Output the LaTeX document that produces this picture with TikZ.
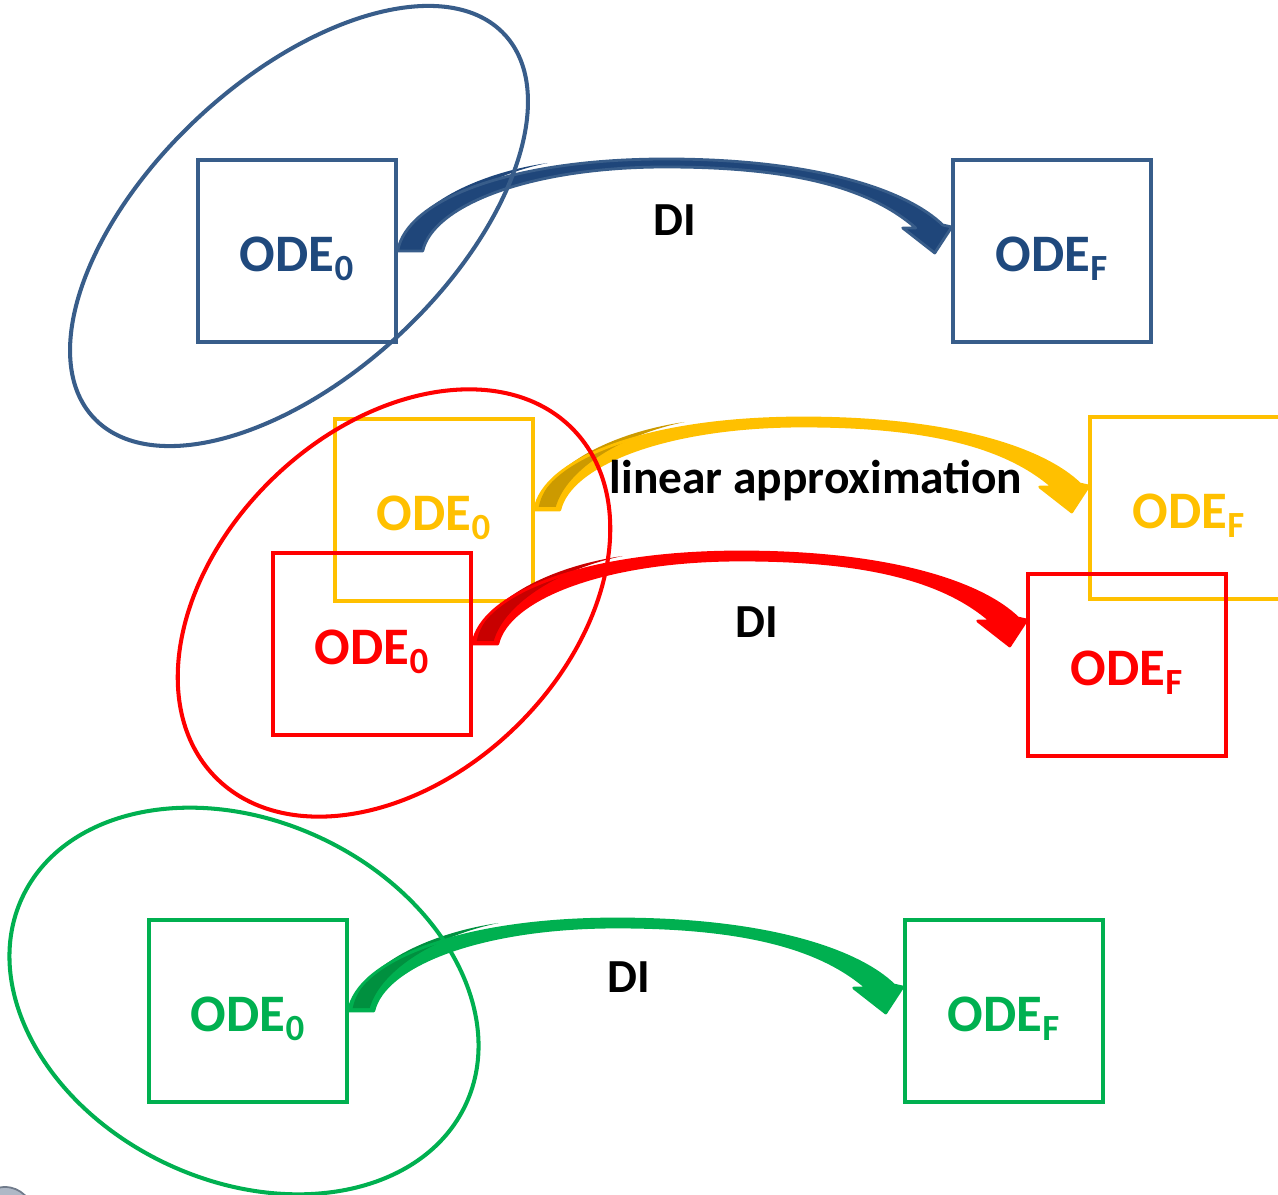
\documentclass[tikz,border=0pt]{standalone}
\usepackage{fontspec}
\setmainfont{Carlito}
\usetikzlibrary{shapes.geometric}

\definecolor{odeblue}{HTML}{385D8A}
\definecolor{odebluetext}{HTML}{1F497D}
\definecolor{odebluedark}{HTML}{1F467A}
\definecolor{odeyellow}{HTML}{FFC000}
\definecolor{odeyellowdark}{HTML}{CC9A00}
\definecolor{odered}{HTML}{FF0000}
\definecolor{odereddark}{HTML}{C80000}
\definecolor{odegreen}{HTML}{00B050}
\definecolor{odegreendark}{HTML}{00903F}
\definecolor{cornergrey}{HTML}{8C9AAE}

% band of the curved arrow, in pixels from the tail corner
\newcommand{\diarrowpath}{(0,0) .. controls (8,-50) and (110,-92) .. (268,-92)
  .. controls (420,-92) and (510,-60) .. (545,-26)
  -- (554,-24) -- (537,2) -- (505,-23) -- (518,-23)
  .. controls (470,-65) and (390,-84) .. (268,-84)
  .. controls (130,-84) and (35,-45) .. (25,0) -- cycle}

\tikzset{
  odebox/.style={draw, line width=2pt, minimum width=3.96cm, minimum height=3.64cm, inner sep=0pt,
    text height=23pt, text depth=0pt, font=\fontsize{30}{30}\selectfont\bfseries},
  region/.style={ellipse, draw, line width=2.3pt, inner sep=0pt},
  arrowlabel/.style={font=\fontsize{27}{27}\selectfont\bfseries},
  pics/diarrow/.style n args={3}{code={
    \fill[#2] \diarrowpath;
    \fill[#3] (4,-3) .. controls (12,-45) and (80,-78) .. (150,-88)
      .. controls (90,-76) and (32,-42) .. (21,-3) -- cycle;
    \draw[#1, line width=1.6pt, line join=round] \diarrowpath;
  }}
}

\begin{document}
\begin{tikzpicture}[x=0.02cm, y=-0.02cm]
  \useasboundingbox (0,0) rectangle (1278,1195);

  % boxes
  \node (odeB0) [odebox, color=odeblue, text=odebluetext] at (297,251) {ODE\textsubscript{0}};
  \node (odeBF) [odebox, color=odeblue, text=odebluetext] at (1052,251) {ODE\textsubscript{F}};
  \node (odeY0) [odebox, color=odeyellow] at (434,510) {ODE\textsubscript{0}};
  \node (odeYF) [odebox, color=odeyellow] at (1189,508) {ODE\textsubscript{F}};
  \node (odeR0) [odebox, color=odered] at (372,644) {ODE\textsubscript{0}};
  \node (odeRF) [odebox, color=odered] at (1127,665) {ODE\textsubscript{F}};
  \node (odeG0) [odebox, color=odegreen] at (248,1011) {ODE\textsubscript{0}};
  \node (odeGF) [odebox, color=odegreen] at (1004,1011) {ODE\textsubscript{F}};

  % arrows
  \pic at (odeB0.east) {diarrow={odeblue}{odebluedark}{odebluedark}};
  \pic at (odeY0.east) {diarrow={odeyellow}{odeyellow}{odeyellowdark}};
  \pic at (odeR0.east) {diarrow={odered}{odered}{odereddark}};
  \pic at (odeG0.east) {diarrow={odegreen}{odegreen}{odegreendark}};

  \node (diB) [arrowlabel] at (675,220) {DI};
  \node (linapprox) [arrowlabel] at (816,481) {linear approximation};
  \node (diR) [arrowlabel] at (757,622) {DI};
  \node (diG) [arrowlabel] at (629,977) {DI};

  % regions
  \node (ellB) [region, color=odeblue, minimum width=11.24cm, minimum height=5.92cm, rotate=43] at (299,226) {};
  \node (ellR) [region, color=odered, minimum width=9.98cm, minimum height=6.95cm, rotate=44] at (394,603) {};
  \node (ellG) [region, color=odegreen, minimum width=9.79cm, minimum height=7.21cm, rotate=-25] at (244,1001) {};

  \filldraw[fill=cornergrey!70, draw=cornergrey!80!black, line width=1pt] (5,1215) circle (28);
\end{tikzpicture}
\end{document}
